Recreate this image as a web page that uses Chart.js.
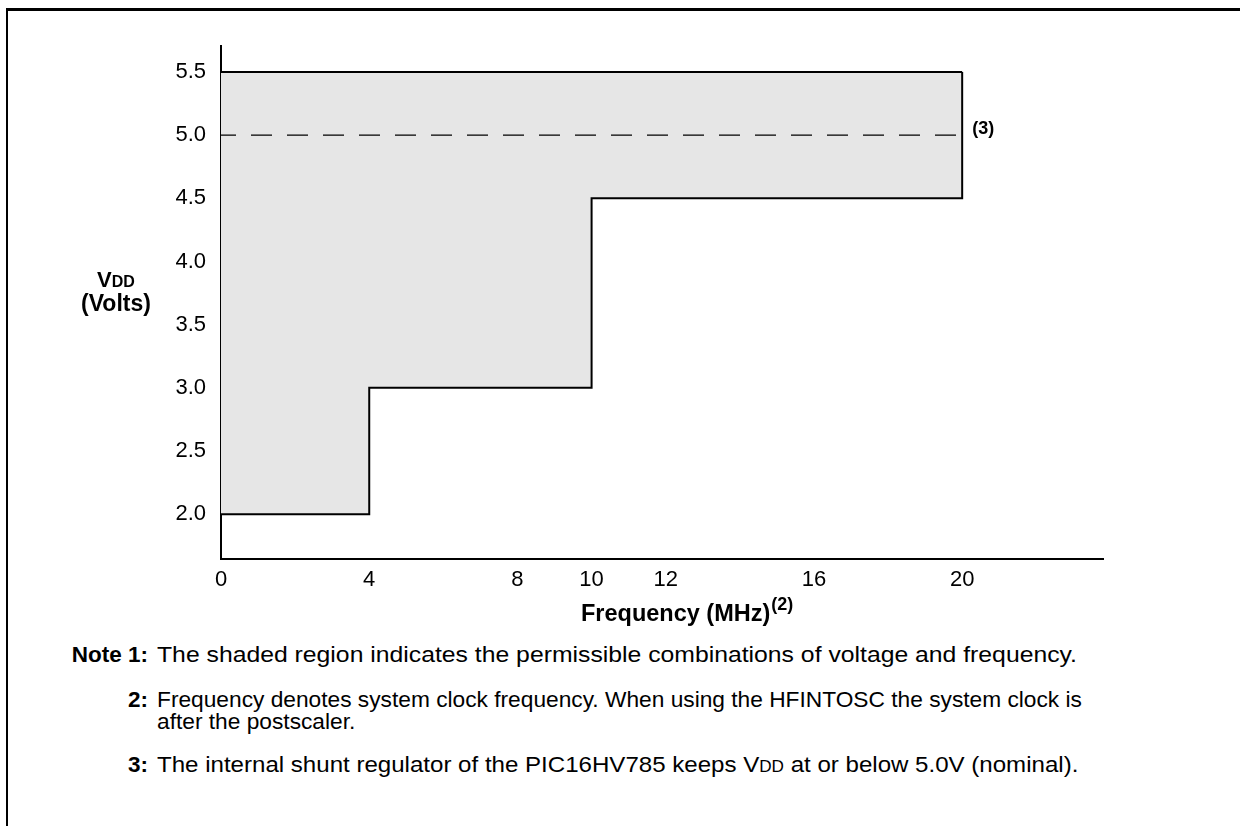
<!DOCTYPE html>
<html>
<head>
<meta charset="utf-8">
<script src="https://cdn.jsdelivr.net/npm/chart.js@4.4.0/dist/chart.umd.min.js"></script>
<style>
  html, body { margin: 0; padding: 0; background: #fff; }
  body { width: 1240px; height: 826px; position: relative; overflow: hidden; font-family: "Liberation Sans", Arial, sans-serif; }
  #frame { position: absolute; left: 6px; top: 8px; width: 1250px; height: 840px; border-left: 2px solid #000; border-top: 3px solid #000; }
  #wrap { position: absolute; left: 0; top: 0; width: 1240px; height: 640px; }
  .row { position: absolute; left: 0; width: 1240px; font-family: "Liberation Sans", Arial, sans-serif; font-size: 22.5px; color: #000; line-height: 22px; }
  .row .lab { position: absolute; left: 28px; width: 120px; text-align: right; font-weight: bold; }
  .row .txt { position: absolute; left: 157px; white-space: nowrap; transform-origin: 0 0; }
</style>
</head>
<body>
<div id="frame"></div>
<div id="wrap"><canvas id="myChart"></canvas></div>

<div class="row" style="top:644px"><span class="lab">Note 1:</span><span class="txt" style="transform:scaleX(1.10)">The shaded region indicates the permissible combinations of voltage and frequency.</span></div>
<div class="row" style="top:689px"><span class="lab">2:</span><span class="txt" style="transform:scaleX(1.01)">Frequency denotes system clock frequency. When using the HFINTOSC the system clock is<br>after the postscaler.</span></div>
<div class="row" style="top:754px"><span class="lab">3:</span><span class="txt" style="transform:scaleX(1.07)">The internal shunt regulator of the PIC16HV785 keeps V<span style="font-size:16px">DD</span> at or below 5.0V (nominal).</span></div>

<script>
var freqTicks = [0, 4, 8, 10, 12, 16, 20];
var voltTicks = [2.0, 2.5, 3.0, 3.5, 4.0, 4.5, 5.0, 5.5];

// lower edge of the permitted region (steps)
var stepFreq = [0, 4, 4, 10, 10, 20, 20];
var stepVolt = [2.0, 2.0, 3.0, 3.0, 4.5, 4.5, 5.5];

// upper edge
var topFreq = [0, 20];
var topVolt = [5.5, 5.5];

// nominal shunt regulator level
var nomFreq = [0, 20];
var nomVolt = [5.0, 5.0];

function toPoints(xs, ys) {
  var pts = [];
  for (var i = 0; i < xs.length; i++) {
    pts.push({ x: xs[i], y: ys[i] });
  }
  return pts;
}

var labelsPlugin = {
  id: 'labels',
  afterDraw: function(chart) {
    var ctx = chart.ctx;
    var area = chart.chartArea;
    var xs = chart.scales.x;
    var ys = chart.scales.y;
    ctx.save();
    ctx.fillStyle = '#000';
    ctx.textBaseline = 'middle';

    // note marker at the 5.0V line
    ctx.font = 'bold 18px "Liberation Sans", Arial, sans-serif';
    ctx.textAlign = 'left';
    ctx.fillText('(3)', xs.getPixelForValue(20) + 10, ys.getPixelForValue(5.0) - 6);

    // y axis title
    ctx.font = 'bold 22px "Liberation Sans", Arial, sans-serif';
    var vW = ctx.measureText('V').width;
    ctx.font = 'bold 16px "Liberation Sans", Arial, sans-serif';
    var ddW = ctx.measureText('DD').width;
    var cx = area.left - 105;
    var x0 = cx - (vW + ddW) / 2;
    ctx.font = 'bold 22px "Liberation Sans", Arial, sans-serif';
    ctx.textAlign = 'left';
    ctx.textBaseline = 'alphabetic';
    ctx.fillText('V', x0, 287);
    ctx.font = 'bold 16px "Liberation Sans", Arial, sans-serif';
    ctx.fillText('DD', x0 + vW, 287);
    ctx.font = 'bold 23px "Liberation Sans", Arial, sans-serif';
    ctx.textAlign = 'center';
    ctx.fillText('(Volts)', cx, 311);

    // x axis title
    ctx.textAlign = 'left';
    ctx.font = 'bold 23.5px "Liberation Sans", Arial, sans-serif';
    var t = 'Frequency (MHz)';
    var tx = area.left + 360;
    ctx.fillText(t, tx, 621);
    var tw = ctx.measureText(t).width;
    ctx.font = 'bold 18px "Liberation Sans", Arial, sans-serif';
    ctx.fillText('(2)', tx + tw + 1, 610);
    ctx.restore();
  }
};

var ctx = document.getElementById('myChart').getContext('2d');
var myChart = new Chart(ctx, {
  type: 'scatter',
  data: {
    datasets: [
      {
        label: 'nominal',
        data: toPoints(nomFreq, nomVolt),
        showLine: true,
        borderColor: '#000',
        borderWidth: 1.2,
        borderDash: [21, 15],
        borderDashOffset: 6,
        pointRadius: 0,
        fill: false
      },
      {
        label: 'top',
        data: toPoints(topFreq, topVolt),
        showLine: true,
        borderColor: '#000',
        borderWidth: 2,
        pointRadius: 0,
        fill: false
      },
      {
        label: 'region',
        data: toPoints(stepFreq, stepVolt),
        showLine: true,
        borderColor: '#000',
        borderWidth: 2,
        backgroundColor: '#e6e6e6',
        pointRadius: 0,
        fill: { value: 5.5 }
      }
    ]
  },
  options: {
    responsive: true,
    maintainAspectRatio: false,
    animation: false,
    layout: { padding: { left: 60, right: 137, top: 46, bottom: 0 } },
    plugins: {
      legend: { display: false },
      tooltip: { enabled: false }
    },
    scales: {
      x: {
        type: 'linear',
        min: 0,
        max: 23.8,
        grid: { display: false, drawTicks: false },
        border: { display: true, color: '#000', width: 2 },
        afterBuildTicks: function(scale) {
          scale.ticks = freqTicks.map(function(v) { return { value: v }; });
        },
        afterFit: function(scale) { scale.height = 81; },
        ticks: {
          color: '#000',
          padding: 8,
          maxRotation: 0,
          autoSkip: false,
          font: { family: '"Liberation Sans", Arial, sans-serif', size: 22 },
          callback: function(v) { return String(v); }
        }
      },
      y: {
        type: 'linear',
        min: 1.645,
        max: 5.706,
        grid: { display: false, drawTicks: false },
        border: { display: true, color: '#000', width: 2 },
        afterBuildTicks: function(scale) {
          scale.ticks = voltTicks.map(function(v) { return { value: v }; });
        },
        afterFit: function(scale) { scale.width = 161; },
        ticks: {
          color: '#000',
          padding: 15,
          autoSkip: false,
          font: { family: '"Liberation Sans", Arial, sans-serif', size: 22 },
          callback: function(v) { return Number(v).toFixed(1); }
        }
      }
    }
  },
  plugins: [labelsPlugin]
});
</script>
</body>
</html>
